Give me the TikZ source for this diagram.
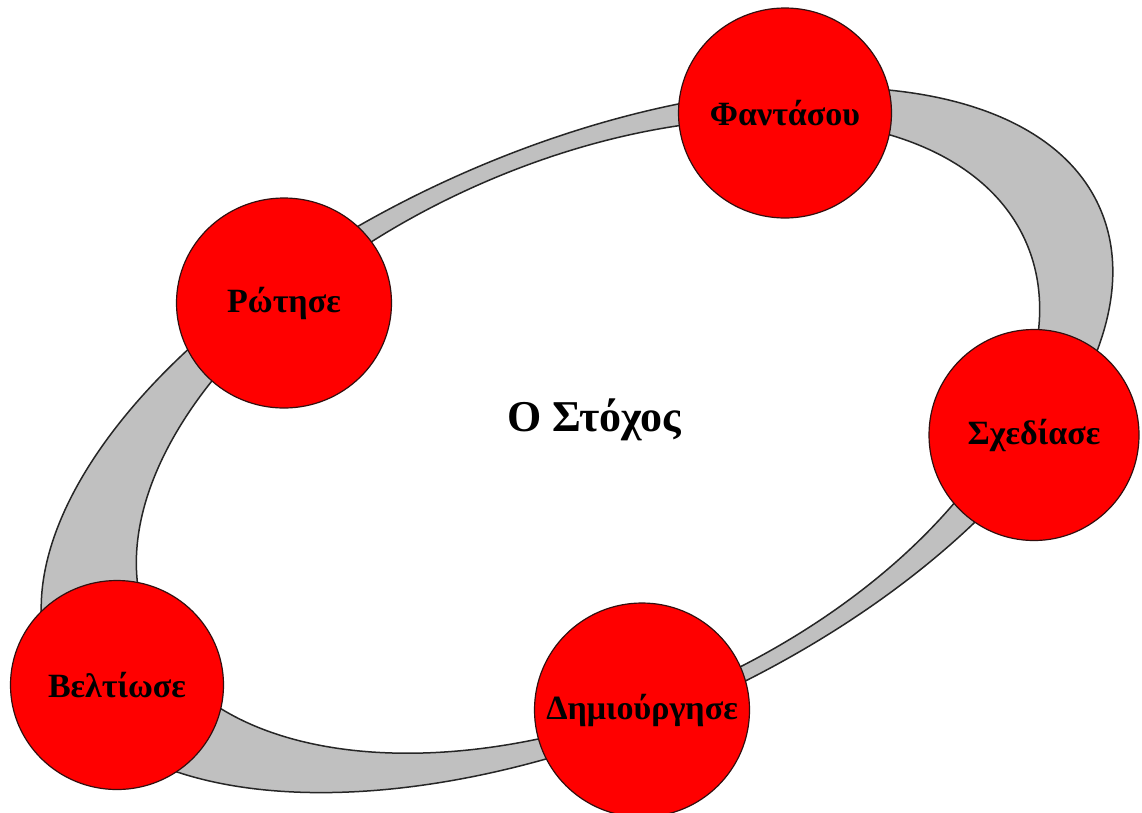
\documentclass[tikz,border=0pt]{standalone}
\usepackage{fontspec}
\setmainfont{Liberation Serif}
\usetikzlibrary{shapes.geometric}
\definecolor{ringgray}{RGB}{192,192,192}
\definecolor{ballred}{RGB}{255,0,0}
\definecolor{edgedark}{RGB}{50,15,15}
\begin{document}
\begin{tikzpicture}[x=1pt,y=-1pt,
  ball/.style={ellipse, draw=edgedark, line width=1.2pt, fill=ballred, inner sep=0pt},
  balltext/.style={font=\bfseries\fontsize{34}{34}\selectfont, inner sep=0pt},
  ringline/.style={draw=black!85, line width=1.5pt},
  goaltext/.style={font=\bfseries\fontsize{44}{44}\selectfont}]
\useasboundingbox (0,0) rectangle (1142,812);
\fill[white] (0,0) rectangle (1142,812);
\begin{scope}[rotate around={24:(577,440)}]
  \fill[ringgray, even odd rule] (577,440) ellipse [x radius=572, y radius=290];
\end{scope}
\begin{scope}[rotate around={24:(588,436)}]
  \fill[white] (588,436) ellipse [x radius=479, y radius=274];
  \draw[ringline] (588,436) ellipse [x radius=479, y radius=274];
\end{scope}
\begin{scope}[rotate around={24:(577,440)}]
  \draw[ringline] (577,440) ellipse [x radius=572, y radius=290];
\end{scope}
\node[goaltext] (goal) at (594,420) {Ο Στόχος};
\node[ball, minimum width=213pt, minimum height=210pt,
      label={[balltext]center:Φαντάσου}] (fan) at (785,113) {};
\node[ball, minimum width=215pt, minimum height=210pt,
      label={[balltext]center:Ρώτησε}] (rot) at (284,303) {};
\node[ball, minimum width=210pt, minimum height=211pt,
      label={[balltext]center:Σχεδίασε}] (sxe) at (1034,435) {};
\node[ball, minimum width=215pt, minimum height=214pt,
      label={[balltext]center:Δημιούργησε}] (dim) at (642,710) {};
\node[ball, minimum width=213pt, minimum height=209pt,
      label={[balltext]center:Βελτίωσε}] (bel) at (117,685) {};
\end{tikzpicture}
\end{document}
